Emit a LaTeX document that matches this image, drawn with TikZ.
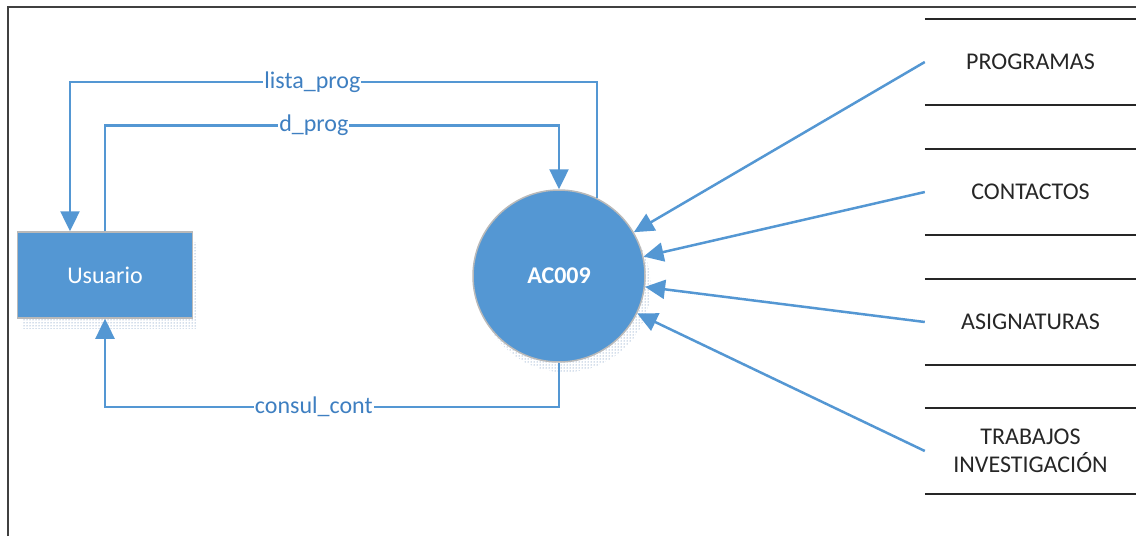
\documentclass[tikz,border=0pt]{standalone}
\usepackage{fontspec}
\setmainfont{Carlito}
\usetikzlibrary{arrows.meta,shadows,patterns}

\definecolor{dfdblue}{RGB}{84,151,211}
\definecolor{dfdtext}{RGB}{62,127,193}
\definecolor{dfdshadow}{RGB}{70,115,170}

\tikzset{
    entity/.style={draw=gray!55, line width=1.5pt, fill=dfdblue, text=white,
        minimum width=175pt, minimum height=86pt, inner sep=0pt,
        drop shadow={shadow xshift=4pt, shadow yshift=-10pt, fill=none, opacity=1,
            pattern=dots, pattern color=dfdshadow}},
    process/.style={draw=gray!55, line width=1.5pt, fill=dfdblue, text=white, circle,
        minimum size=172pt, inner sep=0pt, font=\fontsize{24}{28}\selectfont\bfseries,
        drop shadow={shadow xshift=6pt, shadow yshift=-10pt, fill=none, opacity=1,
            pattern=dots, pattern color=dfdshadow}},
    store/.style={minimum width=211pt, minimum height=86pt, inner sep=0pt,
        align=center, text=black!85,
        append after command={
            \pgfextra{\draw[line width=2pt, black!85]
                (\tikzlastnode.north west) -- (\tikzlastnode.north east)
                (\tikzlastnode.south west) -- (\tikzlastnode.south east);}}},
    flow/.style={draw=dfdblue, line width=2.5pt, -{Triangle[length=20pt,width=19pt]}},
    flowlabel/.style={fill=white, text=dfdtext, inner sep=1pt}
}

\begin{document}
\begin{tikzpicture}[x=1pt, y=-1pt, font=\fontsize{24}{28}\selectfont]
    \useasboundingbox (0,0) rectangle (1136,536);
    \draw[line width=1.5pt, black!75] (8,536) -- (8,7) -- (1136,7);

    \node (user) at (105,275) [entity] {Usuario};
    \node (proc) at (559,276) [process] {AC009};

    \node (prog) at (1030.5,62) [store] {PROGRAMAS};
    \node (cont) at (1030.5,192) [store] {CONTACTOS};
    \node (asig) at (1030.5,322) [store] {ASIGNATURAS};
    \node (trab) at (1030.5,451) [store] {TRABAJOS\\INVESTIGACIÓN};

    \draw[flow] (proc.64.5) -- ++(0,-116) -| node[flowlabel, pos=0.27] {lista\_prog} ([xshift=-35pt]user.north);
    \draw[flow] (user.north) -- ++(0,-106) -| node[flowlabel, pos=0.23] {d\_prog} (proc.north);
    \draw[flow] (proc.south) -- ++(0,44) -| node[flowlabel, pos=0.27] {consul\_cont} (user.south);

    \draw[flow] (prog.west) -- (proc);
    \draw[flow] (cont.west) -- (proc);
    \draw[flow] (asig.west) -- (proc);
    \draw[flow] (trab.west) -- (proc);
\end{tikzpicture}
\end{document}
